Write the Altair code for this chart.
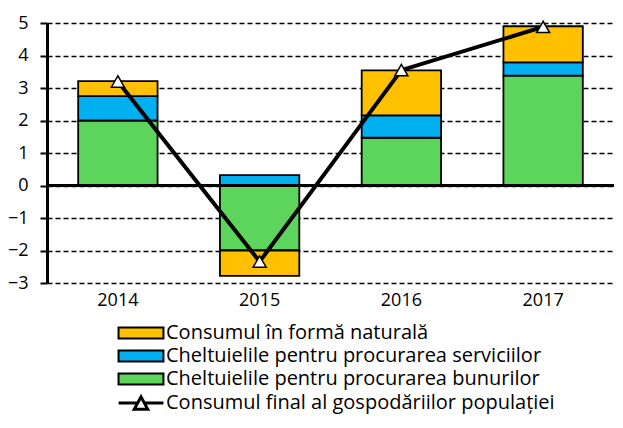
import altair as alt
import pandas as pd

years = ["2014", "2015", "2016", "2017"]
series_names = [
    "Consumul în formă naturală",
    "Cheltuielile pentru procurarea serviciilor",
    "Cheltuielile pentru procurarea bunurilor",
]
line_name = "Consumul final al gospodăriilor populației"
natural = [0.46, -0.78, 1.38, 1.11]
services = [0.75, 0.32, 0.69, 0.41]
goods = [2.0, -2.0, 1.47, 3.38]
total = [3.2, -2.34, 3.55, 4.88]
colors = ["#FFC000", "#00B0F0", "#5DD55D"]
y_ticks = [-3, -2, -1, 0, 1, 2, 3, 4, 5]

rows = []
for i, y in enumerate(years):
    rows.append({"year": y, "series": series_names[2], "value": goods[i], "ord": 0})
    rows.append({"year": y, "series": series_names[1], "value": services[i], "ord": 1})
    rows.append({"year": y, "series": series_names[0], "value": natural[i], "ord": 2})
bars_df = pd.DataFrame(rows)
line_df = pd.DataFrame({"year": years, "value": total, "lab": [line_name] * len(years)})

FONT = "Open Sans"

x_enc = alt.X(
    "year:N",
    title=None,
    scale=alt.Scale(paddingInner=0.44, paddingOuter=0.22),
    axis=alt.Axis(labelAngle=0, domain=False, ticks=False, labelPadding=8,
                  labelFont=FONT, labelFontSize=18, labelColor="black"),
)
y_scale = alt.Scale(domain=[-3, 5], nice=False)
y_axis = alt.Axis(values=y_ticks, title=None, domainColor="black", domainWidth=3,
                  tickColor="black", tickWidth=2, tickSize=7, labelPadding=12,
                  labelOverlap=False,
                  labelFont=FONT, labelFontSize=18, labelColor="black",
                  grid=True, gridColor="black", gridDash=[5, 3], gridWidth=1.3, gridOpacity=1)

bars = alt.Chart(bars_df).mark_bar(stroke="black", strokeWidth=1.8).encode(
    x=x_enc,
    y=alt.Y("value:Q", stack="zero", scale=y_scale, axis=y_axis),
    fill=alt.Fill("series:N", scale=alt.Scale(domain=series_names, range=colors),
                  legend=alt.Legend(title=None, orient="none", legendX=84, legendY=300,
                                    symbolType="M-4,-1H4V1H-4Z", symbolSize=126,
                                    symbolStrokeColor="black", symbolStrokeWidth=2,
                                    labelFont=FONT, labelFontSize=20, labelColor="black",
                                    labelOffset=15, rowPadding=3, labelLimit=500)),
    order=alt.Order("ord:Q"),
)

zero = alt.Chart(line_df).mark_rule(color="black", strokeWidth=3).encode(
    y=alt.datum(0, scale=y_scale, axis=y_axis))

line = alt.Chart(line_df).mark_line(strokeWidth=4).encode(
    x=alt.X("year:N"),
    y=alt.Y("value:Q", scale=y_scale, axis=y_axis),
    stroke=alt.Stroke("lab:N", scale=alt.Scale(range=["black"]),
                      legend=alt.Legend(title=None, orient="none", legendX=84, legendY=370,
                                        symbolType="M-4,0H-0.6M0.6,0H4M-1.2,1.1L0,-1.1L1.2,1.1Z",
                                        symbolSize=126, symbolStrokeWidth=3,
                                        symbolFillColor="white",
                                        labelFont=FONT, labelFontSize=20, labelColor="black",
                                        labelOffset=15, labelLimit=500)),
)

pts = alt.Chart(line_df).mark_point(shape="triangle-up", filled=True, fill="white",
                                    stroke="black", strokeWidth=1.5, size=170, opacity=1).encode(
    x=alt.X("year:N"),
    y=alt.Y("value:Q", scale=y_scale, axis=y_axis),
)

chart = alt.layer(bars, zero, line, pts).properties(
    width=567, height=260,
    padding={"left": 39, "top": 15, "right": 0, "bottom": 133},
    autosize=alt.AutoSizeParams(type="none"),
    background="white",
).configure_view(stroke=None)

chart.save("out.html", embed_options={"renderer": "svg", "actions": False})
